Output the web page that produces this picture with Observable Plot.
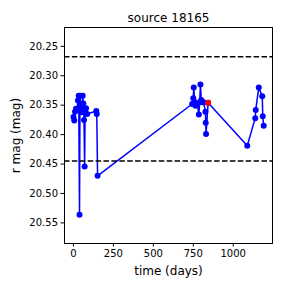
<!DOCTYPE html>
<html>
<head>
<meta charset="utf-8">
<script src="https://cdn.jsdelivr.net/npm/d3@7"></script>
<script src="https://cdn.jsdelivr.net/npm/@observablehq/plot@0.6"></script>
<style>
  html, body { margin: 0; padding: 0; background: #fff; }
  #chart svg { display: block; }
</style>
</head>
<body>
<div id="chart"></div>
<script>
const title = "source 18165";
const days = [0, 5, 10, 16, 22, 28, 33, 38, 41, 46, 52, 58, 62, 66, 70, 73, 79, 86, 143, 146, 151,
  743, 750, 753, 760, 764, 775, 785, 790, 795, 800, 806, 815, 826, 828, 830, 843,
  1088, 1138, 1141, 1160, 1182, 1185, 1191];
const mags = [20.370, 20.376, 20.361, 20.356, 20.358, 20.342, 20.334, 20.536, 20.334, 20.350, 20.362, 20.334, 20.347, 20.375, 20.454, 20.358, 20.355, 20.365, 20.360, 20.365, 20.470,
  20.348, 20.338, 20.320, 20.345, 20.351, 20.348, 20.366, 20.345, 20.315, 20.341, 20.345, 20.345, 20.361, 20.380, 20.399, 20.346,
  20.419, 20.372, 20.358, 20.320, 20.335, 20.369, 20.385];
const redDays = [843];
const redMags = [20.346];
const limitMags = [20.2675, 20.445];
const xTicks = [0, 250, 500, 750, 1000];
const yTicks = [20.25, 20.30, 20.35, 20.40, 20.45, 20.50, 20.55];

const data = days.map((d, i) => ({t: d, m: mags[i]}));
const red = redDays.map((d, i) => ({t: d, m: redMags[i]}));

const chart = Plot.plot({
  width: 288,
  height: 288,
  marginLeft: 64,
  marginRight: 16,
  marginTop: 27,
  marginBottom: 45,
  style: {fontFamily: "DejaVu Sans", fontSize: "10px", color: "#000", background: "#fff"},
  x: {domain: [-56, 1246], ticks: xTicks, tickFormat: "d", label: "time (days)", labelArrow: "none", labelAnchor: "center", labelOffset: 31, tickSize: 3.5, tickPadding: 3},
  y: {domain: [20.218, 20.585], reverse: true, ticks: yTicks, tickFormat: ".2f", label: "r mag (mag)", labelArrow: "none", labelAnchor: "center", labelOffset: 53, tickSize: 3.5, tickPadding: 3},
  marks: [
    Plot.line(data, {x: "t", y: "m", stroke: "#0000ff", strokeWidth: 1.5}),
    Plot.dot(data, {x: "t", y: "m", r: 3, fill: "#0000ff", stroke: "none"}),
    Plot.dot(red, {x: "t", y: "m", r: 3, fill: "#ff0000", stroke: "none"}),
    Plot.ruleY(limitMags, {stroke: "#000", strokeWidth: 1.5, strokeDasharray: "5.5,2.4"}),
    Plot.frame({stroke: "#000", strokeWidth: 1}),
    Plot.text([title], {frameAnchor: "top", dy: -14, fontSize: 12, fill: "#000"})
  ]
});
chart.querySelectorAll("[aria-label='x-axis label'] text, [aria-label='y-axis label'] text").forEach(t => t.setAttribute("font-size", "12px"));
document.getElementById("chart").appendChild(chart);
</script>
</body>
</html>
